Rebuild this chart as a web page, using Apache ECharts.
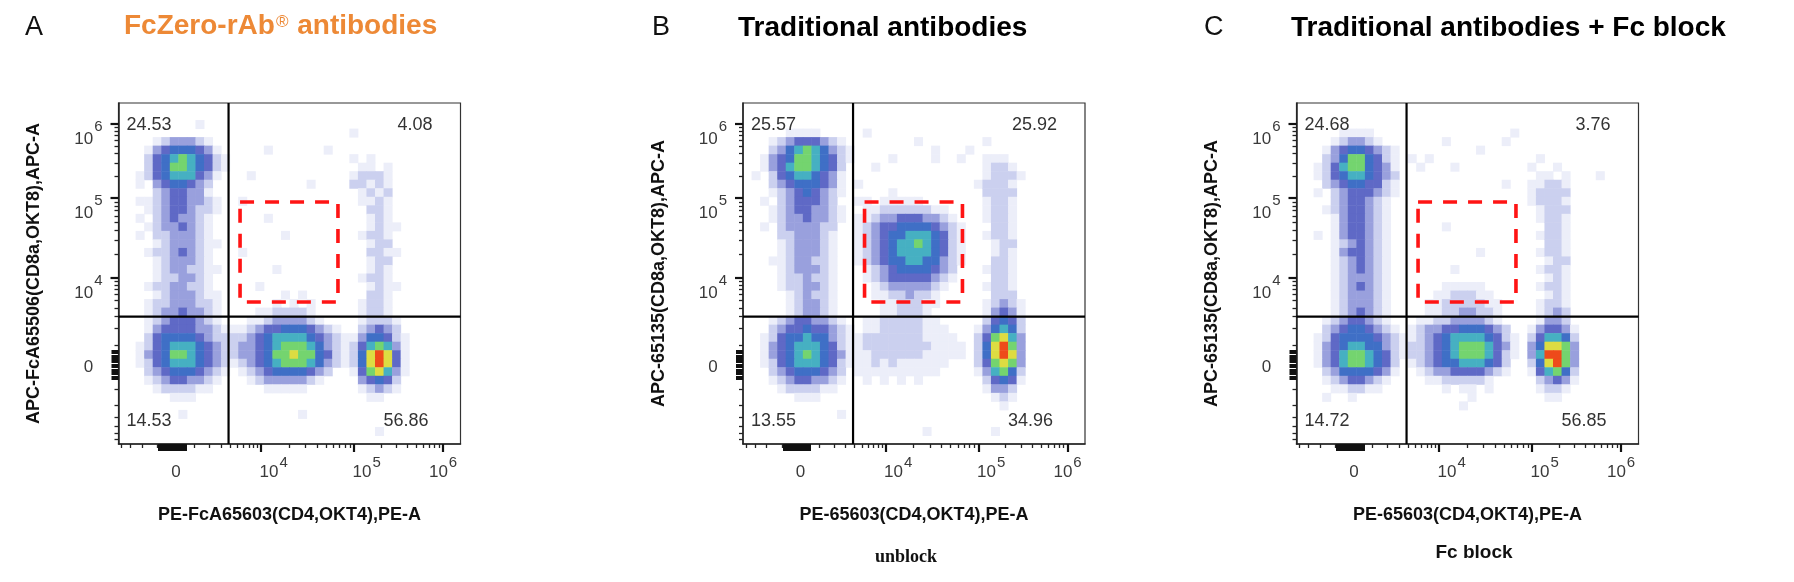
<!DOCTYPE html>
<html>
<head>
<meta charset="utf-8">
<script src="https://cdn.jsdelivr.net/npm/echarts@6/dist/echarts.min.js"></script>
<style>
html,body{margin:0;padding:0;background:#fff;}
#c{width:1794px;height:582px;}
</style>
</head>
<body>
<div id="c"></div>
<script>
// ---------------- DATA ----------------
const panelLetters = ['A', 'B', 'C'];
const panelTitles = ['FcZero-rAb® antibodies', 'Traditional antibodies', 'Traditional antibodies + Fc block'];
const xAxisNames = ['PE-FcA65603(CD4,OKT4),PE-A', 'PE-65603(CD4,OKT4),PE-A', 'PE-65603(CD4,OKT4),PE-A'];
const yAxisNames = ['APC-FcA65506(CD8a,OKT8),APC-A', 'APC-65135(CD8a,OKT8),APC-A', 'APC-65135(CD8a,OKT8),APC-A'];
const footnotes = ['', 'unblock', 'Fc block'];

// quadrant percentages: [top-left, top-right, bottom-left, bottom-right]
const quadA = [24.53, 4.08, 14.53, 56.86];
const quadB = [25.57, 25.92, 13.55, 34.96];
const quadC = [24.68, 3.76, 14.72, 56.85];

// axis tick values (fluorescence units)
const xTickValues = [0, 1e4, 1e5, 1e6];
const yTickValues = [0, 1e4, 1e5, 1e6];

// quadrant gate and dashed box (fluorescence units)
const xGate = 3800;
const yGate = 3000;
const boxX = [5400, 67000];
const boxY = [4800, 89500];

// event density, 40 x 40 cells, row 0 = top.
// each row: "startColumn:levels ..." (levels 0-9)
const densityA = [
 '', '', '9:1', '27:1',
 '4:1233321',
 '3:134555431 17:1 24:1',
 '3:2456765421 27:101',
 '3:2457765421 28:1101',
 '2:1245666431 15:1 27:12221',
 '2:103455432 22:1 27:22121',
 '4:2344331 28:1212',
 '2:1123443321 14:1 28:1121',
 '3:123443221 29:221',
 '2:102343321 17:1 29:121',
 '3:12334321 29:1211',
 '2:102233321 19:1 28:1221',
 '4:12333211 29:122',
 '3:12234321 14:1 29:2211',
 '4:1233321 29:122',
 '4:12332211 18:1 29:121',
 '4:1223321 28:1221',
 '3:12233221 16:1 29:1211',
 '4:12333211 19:101 29:221',
 '3:122333221 18:10101 28:1221',
 '3:123343321 16:1122221 28:1221',
 '3:123444321 15:112333321 28:12221',
 '3:13444433211123445554321 28:23432',
 '3:2455554322223456666543211355421',
 '2:12456665432233456777653212467631',
 '2:13457765432233457787754212589841',
 '2:12456665432123456777653212589841',
 '3:2345554321012345555432001478631',
 '3:123443321 15:123333321 28:34542',
 '4:1222211 17:11111 28:12321',
 '6:111 29:11',
 '',
 '7:1 21:1',
 '',
 '30:1',
 ''
];
const densityB = [
 '', '', '',
 '5:1111 14:1',
 '3:123444321 20:1 28:1',
 '3:2356765321 22:1 26:1',
 '2:13457765421 17:1 22:1 25:1 28:111',
 '2:1346776542 15:1 28:1221',
 '1:10245665431 28:12221',
 '3:234555431 13:1 27:12221',
 '3:123454321 17:1 28:2222',
 '2:102344432 13:11011111 28:1221',
 '3:123443321 14:1122222211 28:1221',
 '3:123343321 13:112334443321 28:1221',
 '2:102333322 13:1234455554321 29:221',
 '4:2233321 13:1234556665421 28:1221',
 '4:1233321 13:1234566765421 29:122',
 '4:1233321 13:1234566665421 29:121',
 '3:11233221 13:1234556655321 29:221',
 '4:1233321 14:12345555432 28:1221',
 '4:1223221 14:12344444321 29:221',
 '4:1223321 15:123333321 28:1221',
 '5:123221 15:11223221 29:222',
 '5:123321 16:1122211 28:12321',
 '5:123321 16:112221 28:13431',
 '3:123443321 14:112222211 28:24542',
 '3:2344544321 14:1122222111 27:135652',
 '2:12455655321 13:122222221111 27:247863',
 '2:13456665421 13:1222222221111 27:258973',
 '2:13456765431 13:1122222211111 27:258983',
 '2:12456665421 13:11212111111 27:247873',
 '3:234555432 13:1111111111 27:136752',
 '3:123443321 14:1010101 28:24541',
 '4:1222211 28:1332',
 '6:111 29:121',
 '30:1',
 '11:1',
 '',
 '21:1 29:1',
 ''
];
const densityC = [
 '', '', '',
 '5:1111 25:1',
 '4:123321 17:1 24:1',
 '3:134554321 21:1',
 '3:235775421 13:101 28:1',
 '2:1246775431 14:1 18:1 27:1001',
 '2:1245665432 28:1101 35:1',
 '3:234554421 24:1 27:11221',
 '2:1023444321 27:12222',
 '4:2344321 27:12221',
 '3:12344321 28:1222',
 '4:1344321 28:1221',
 '4:1344321 17:1 29:221',
 '2:101344321 28:1221',
 '4:1234321 29:221',
 '4:1344321 21:1 28:1221',
 '4:1234321 29:122',
 '4:1234321 18:1 28:1221',
 '4:1233321 29:121',
 '4:1234321 17:11111 28:1221',
 '4:1233321 16:1122211 29:121',
 '4:1233321 15:112222211 28:1221',
 '4:1234321 15:112233221 28:1232',
 '3:12344321 14:1122333321 28:1332',
 '3:234554321 13:123344555432 27:134431',
 '2:12455554321 13:1234566665421 27:246652',
 '2:13456655321 13:2234567776431 27:358873',
 '2:13467765421 13:2234567776421 27:369973',
 '2:1346776542 13:123455666542 27:258973',
 '3:235555431 14:12334444321 27:146752',
 '3:12344321 15:11222221 28:23431',
 '4:112211 17:101101 28:1221',
 '3:1001 20:1 29:11',
 '19:1',
 '', '', '', ''
];

// ---------------- SCALE / LAYOUT ----------------
const FONT = "'Liberation Sans', Arial, Helvetica, sans-serif";
const SERIF = "'Liberation Serif', 'Times New Roman', serif";
const LEVEL_COLORS = [null, '#eceef9', '#cbd0ef', '#99a0dd', '#5f69c6', '#3f6fc6', '#46b0c2', '#74d46f', '#dddc42', '#ee4a1a'];
const NCELL = 40, CELL = 1000 / NCELL;

// biexponential-like display scale (display units 0..1000)
const XS = {z: 168, d4: 417, d5: 689, d6: 949, c: 1800};
const YS = {z: 226, d4: 487, d5: 721, d6: 938, c: 1408};
function disp(S, v) {
  if (v <= 1e4) return S.z + (S.d4 - S.z) * Math.asinh(v / S.c) / Math.asinh(1e4 / S.c);
  const l = Math.log10(v);
  if (l <= 5) return S.d4 + (l - 4) * (S.d5 - S.d4);
  return S.d5 + (l - 5) * (S.d6 - S.d5);
}
const xd = v => disp(XS, v), yd = v => disp(YS, v);

function range(a, b, s) { const r = []; for (let v = a; v <= b + 1e-9; v += s) r.push(v); return r; }
function inside(arr) { return arr.filter(d => d >= 0 && d <= 1000); }
const logMinors = [];
[1e4, 1e5, 1e6].forEach(p => { for (let k = 2; k <= 9; k++) logMinors.push(k * p); });

const xMajorPos = [1e4, 1e5, 1e6].map(xd);
const xMinorPos = inside(range(-9000, 9000, 1000).filter(v => v !== 0).concat(logMinors).map(xd));
const xBlockPos = inside(range(-900, 500, 100).map(xd));
const yMajorPos = [1e4, 1e5, 1e6].map(yd);
const yMinorPos = inside(range(-9000, 9000, 1000).filter(v => v !== 0).concat(logMinors).map(yd));
const yBlockPos = inside(range(-500, 700, 100).map(yd));

const xLabelPos = xTickValues.map(xd);
const yLabelPos = yTickValues.map(yd);

const LEFTS = [118.5, 743, 1296.5];
const TOP = 103, W = 342, H = 341;
const LETTER_X = [25, 652, 1204];
const TITLE_X = [124, 738, 1291];
const FOOT_X = [0, 906, 1474];
const FOOT_Y = [0, 557, 553];
const ORANGE = '#ED8936';
const densities = [densityA, densityB, densityC];
const quads = [quadA, quadB, quadC];

function parseDensity(rows) {
  const out = [];
  rows.forEach((row, r) => {
    row.trim().split(/\s+/).filter(Boolean).forEach(seg => {
      const [st, digits] = seg.split(':');
      for (let k = 0; k < digits.length; k++) {
        const lv = +digits[k];
        const c = +st + k;
        if (lv > 0) out.push([c * CELL, 1000 - (r + 1) * CELL, lv]);
      }
    });
  });
  return out;
}

function nearestIdx(arr, v) {
  let bi = 0, bd = Infinity;
  arr.forEach((a, i) => { const d = Math.abs(a - v); if (d < bd) { bd = d; bi = i; } });
  return bi;
}

const labelColor = '#3a3a3a';
const xRich = {
  n: {fontSize: 17, fontFamily: FONT, color: labelColor, lineHeight: 18, padding: [16, 0, 0, 0], verticalAlign: 'top'},
  b: {fontSize: 17, fontFamily: FONT, color: labelColor, lineHeight: 18, padding: [16, 0, 0, 0], verticalAlign: 'top'},
  bl: {fontSize: 17, fontFamily: FONT, color: labelColor, lineHeight: 18, padding: [16, 0, 0, 25], verticalAlign: 'top'},
  s: {fontSize: 15, fontFamily: FONT, color: labelColor, lineHeight: 16, padding: [7, 0, 0, 1], verticalAlign: 'top'}
};
const yRich = {
  n: {fontSize: 17, fontFamily: FONT, color: labelColor, lineHeight: 18},
  b: {fontSize: 17, fontFamily: FONT, color: labelColor, lineHeight: 18, padding: [16, 0, 0, 0], verticalAlign: 'top'},
  s: {fontSize: 15, fontFamily: FONT, color: labelColor, lineHeight: 16, padding: [4, 0, 0, 1], verticalAlign: 'top'}
};
function xLabelFmt(val) {
  const v = xTickValues[nearestIdx(xLabelPos, val)];
  if (v === 0) return '{n|0}';
  const e = Math.round(Math.log10(v));
  return (v === xTickValues[xTickValues.length - 1] ? '{b|10}' : '{bl|10}') + '{s|' + e + '}';
}
function yLabelFmt(val) {
  const v = yTickValues[nearestIdx(yLabelPos, val)];
  if (v === 0) return '{n|0}';
  return '{b|10}{s|' + Math.round(Math.log10(v)) + '}';
}

const grids = [], xAxes = [], yAxes = [], series = [], graphic = [];

LEFTS.forEach((L, i) => {
  grids.push({left: L, top: TOP, width: W, height: H, show: true, borderColor: '#333', borderWidth: 1.2, backgroundColor: 'rgba(0,0,0,0)'});
  const base = {gridIndex: i, type: 'value', min: 0, max: 1000, splitLine: {show: false}};
  xAxes.push(Object.assign({}, base, {
    position: 'bottom',
    axisLine: {show: true, onZero: false, lineStyle: {color: '#222', width: 1.5}},
    axisTick: {show: true, customValues: xMajorPos, length: 8, lineStyle: {color: '#111', width: 2.2}},
    axisLabel: {show: true, customValues: xLabelPos, formatter: xLabelFmt, rich: xRich, margin: 4}
  }));
  xAxes.push(Object.assign({}, base, {
    position: 'bottom',
    axisLine: {show: false, onZero: false},
    axisTick: {show: true, customValues: xMinorPos, length: 4, lineStyle: {color: '#222', width: 1.3}},
    axisLabel: {show: false}
  }));
  xAxes.push(Object.assign({}, base, {
    position: 'bottom',
    axisLine: {show: false, onZero: false},
    axisTick: {show: true, customValues: xBlockPos, length: 7, lineStyle: {color: '#111', width: 2}},
    axisLabel: {show: false}
  }));
  yAxes.push(Object.assign({}, base, {
    position: 'left',
    axisLine: {show: true, onZero: false, lineStyle: {color: '#222', width: 1.5}},
    axisTick: {show: true, customValues: yMajorPos, length: 8, lineStyle: {color: '#111', width: 2.2}},
    axisLabel: {show: true, customValues: yLabelPos, formatter: yLabelFmt, rich: yRich, margin: 30, align: 'center'}
  }));
  yAxes.push(Object.assign({}, base, {
    position: 'left',
    axisLine: {show: false, onZero: false},
    axisTick: {show: true, customValues: yMinorPos, length: 4, lineStyle: {color: '#222', width: 1.3}},
    axisLabel: {show: false}
  }));
  yAxes.push(Object.assign({}, base, {
    position: 'left',
    axisLine: {show: false, onZero: false},
    axisTick: {show: true, customValues: yBlockPos, length: 7, lineStyle: {color: '#111', width: 2}},
    axisLabel: {show: false}
  }));

  const xi = 3 * i, yi = 3 * i;
  // density cells
  series.push({
    type: 'custom', xAxisIndex: xi, yAxisIndex: yi, silent: true, z: 2,
    data: parseDensity(densities[i]),
    renderItem: (params, api) => {
      const x0 = api.value(0), y0 = api.value(1), lv = api.value(2);
      const a = api.coord([x0, y0 + CELL]);
      const b = api.coord([x0 + CELL, y0]);
      return {type: 'rect', shape: {x: a[0], y: a[1], width: b[0] - a[0] + 0.5, height: b[1] - a[1] + 0.5},
        style: {fill: LEVEL_COLORS[lv]}};
    }
  });
  // quadrant gate
  series.push({
    type: 'custom', xAxisIndex: xi, yAxisIndex: yi, silent: true, z: 4,
    data: [[xd(xGate), yd(yGate)]],
    renderItem: (params, api) => {
      const gx = api.value(0), gy = api.value(1);
      const p1 = api.coord([gx, 0]), p2 = api.coord([gx, 1000]);
      const q1 = api.coord([0, gy]), q2 = api.coord([1000, gy]);
      return {type: 'group', children: [
        {type: 'line', shape: {x1: p1[0], y1: p1[1], x2: p2[0], y2: p2[1]}, style: {stroke: '#000', lineWidth: 2.2}},
        {type: 'line', shape: {x1: q1[0], y1: q1[1], x2: q2[0], y2: q2[1]}, style: {stroke: '#000', lineWidth: 2.2}}
      ]};
    }
  });
  // dashed red box
  series.push({
    type: 'custom', xAxisIndex: xi, yAxisIndex: yi, silent: true, z: 5,
    data: [[xd(boxX[0]), yd(boxY[0]), xd(boxX[1]), yd(boxY[1])]],
    renderItem: (params, api) => {
      const a = api.coord([api.value(0), api.value(3)]);
      const b = api.coord([api.value(2), api.value(1)]);
      return {type: 'rect', shape: {x: a[0], y: a[1], width: b[0] - a[0], height: b[1] - a[1]},
        style: {fill: 'none', stroke: '#ff1414', lineWidth: 3.6, lineDash: [14, 11]}};
    }
  });

  // texts
  graphic.push({type: 'text', x: LETTER_X[i], y: 28, z: 100,
    style: {text: panelLetters[i], font: `27px ${FONT}`, fill: '#111', align: 'left', verticalAlign: 'middle'}});
  if (panelTitles[i].indexOf('®') >= 0) {
    const parts = panelTitles[i].split('®');
    graphic.push({type: 'text', x: TITLE_X[i], y: 28, z: 100,
      style: {text: '{t|' + parts[0] + '}{r|®}{t|' + parts[1] + '}', align: 'left', verticalAlign: 'middle',
        rich: {
          t: {fontSize: 28, fontWeight: 'bold', fontFamily: FONT, fill: ORANGE, lineHeight: 32, verticalAlign: 'top'},
          r: {fontSize: 17, fontFamily: FONT, fill: ORANGE, lineHeight: 18, padding: [2, 1, 0, 1], verticalAlign: 'top'}
        }}});
  } else {
    graphic.push({type: 'text', x: TITLE_X[i], y: 28, z: 100,
      style: {text: panelTitles[i], font: `bold 28px ${FONT}`, fill: '#000', align: 'left', verticalAlign: 'middle'}});
  }
  graphic.push({type: 'text', x: L + W / 2, y: 515, z: 100,
    style: {text: xAxisNames[i], font: `bold 18px ${FONT}`, fill: '#111', align: 'center', verticalAlign: 'middle'}});
  graphic.push({type: 'text', x: L - 84, y: TOP + H / 2, rotation: Math.PI / 2, z: 100,
    style: {text: yAxisNames[i], font: `bold 18px ${FONT}`, fill: '#111', align: 'center', verticalAlign: 'middle'}});
  if (footnotes[i]) {
    graphic.push({type: 'text', x: FOOT_X[i], y: FOOT_Y[i], z: 100,
      style: {text: footnotes[i], font: i === 1 ? `bold 18px ${SERIF}` : `bold 19px ${FONT}`, fill: '#111', align: 'center', verticalAlign: 'middle'}});
  }
  const q = quads[i];
  const qf = `18px ${FONT}`;
  const qPos = [
    [L + 8, TOP + 22, 'left'], [L + W - 28, TOP + 22, 'right'],
    [L + 8, TOP + H - 23, 'left'], [L + W - 32, TOP + H - 23, 'right']
  ];
  q.forEach((v, j) => {
    graphic.push({type: 'text', x: qPos[j][0], y: qPos[j][1], z: 100,
      style: {text: v.toFixed(2), font: qf, fill: '#333', align: qPos[j][2], verticalAlign: 'middle'}});
  });
});

const chart = echarts.init(document.getElementById('c'), null, {renderer: 'canvas'});
chart.setOption({
  animation: false,
  backgroundColor: '#ffffff',
  grid: grids,
  xAxis: xAxes,
  yAxis: yAxes,
  series: series,
  graphic: graphic
});
</script>
</body>
</html>
